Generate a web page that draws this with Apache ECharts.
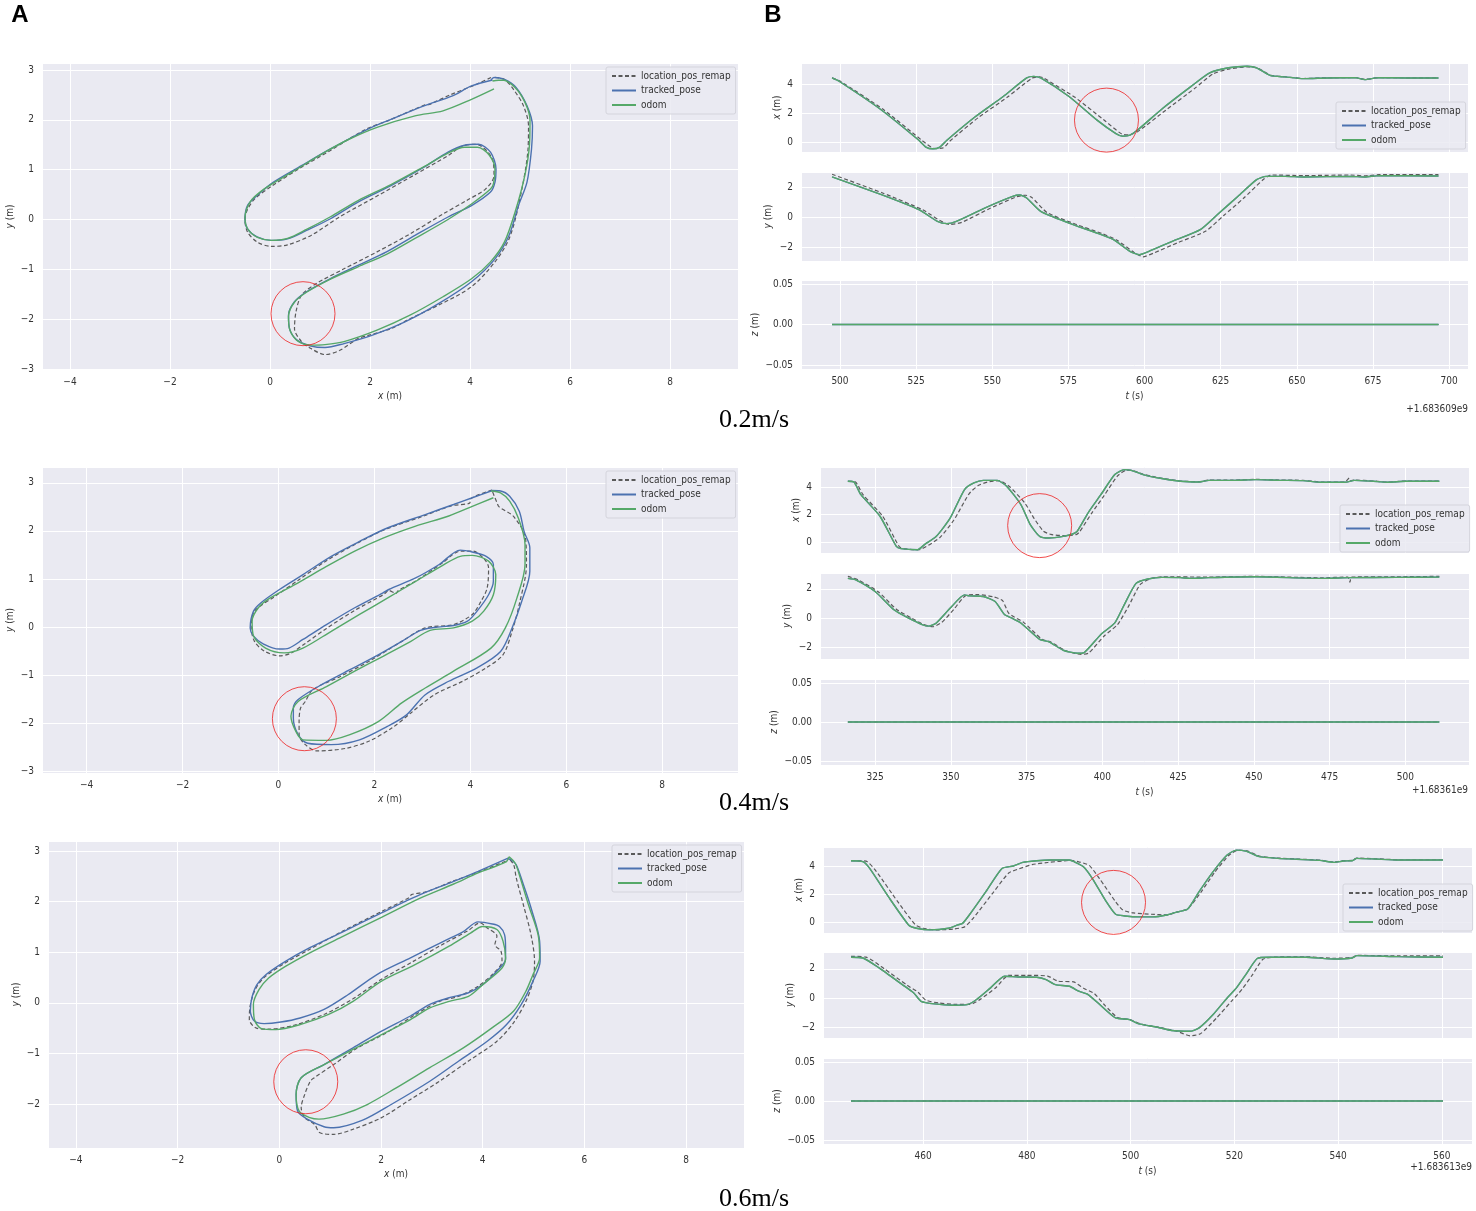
<!DOCTYPE html>
<html>
<head>
<meta charset="utf-8">
<script src="https://cdn.jsdelivr.net/npm/echarts@6/dist/echarts.min.js"></script>
<style>
  html, body { margin: 0; padding: 0; background: #fff; }
  #container { width: 1476px; height: 1211px; }
</style>
</head>
<body>
<div id="container"></div>
<script type="text/javascript">
// ---------- data ----------
var seriesNames = ['location_pos_remap', 'tracked_pose', 'odom'];
var speedLabels = ['0.2m/s', '0.4m/s', '0.6m/s'];
var offsetLabels = ['+1.683609e9', '+1.68361e9', '+1.683613e9'];

// row 1 (0.2 m/s), trajectory in the plane
var r1RemapXY = [[4.42,2.85],[4.1,2.7],[3.6,2.5],[3.3,2.36],[3.19,2.31],[3.1,2.3],[2.4,2.0],[1.9,1.8],[1.2,1.38],[0.6,1.03],[0.05,0.68],[-0.3,0.42],[-0.45,0.2],[-0.5,0.0],[-0.45,-0.25],[-0.26,-0.45],[0.02,-0.54],[0.35,-0.51],[0.82,-0.32],[1.39,0.05],[2.14,0.47],[2.9,0.9],[3.56,1.28],[3.84,1.47],[4.12,1.51],[4.45,1.21],[4.48,0.88],[4.31,0.61],[3.93,0.38],[3.46,0.11],[2.8,-0.29],[2.14,-0.65],[1.48,-0.99],[0.92,-1.29],[0.63,-1.52],[0.52,-1.85],[0.49,-2.19],[0.63,-2.45],[0.82,-2.59],[1.1,-2.71],[1.39,-2.63],[1.76,-2.39],[1.95,-2.33],[2.42,-2.19],[2.8,-1.99],[3.37,-1.72],[4.03,-1.35],[4.5,-0.85],[4.78,-0.39],[4.97,0.28],[5.16,1.41],[5.17,1.88],[5.07,2.28],[4.87,2.61],[4.69,2.81],[4.5,2.85]];
var r1PoseXY = [[4.45,2.8],[4.03,2.68],[3.65,2.48],[3.08,2.28],[2.42,2.01],[1.95,1.81],[1.2,1.41],[0.63,1.08],[0.07,0.75],[-0.26,0.48],[-0.45,0.28],[-0.5,0.01],[-0.45,-0.19],[-0.26,-0.35],[0.02,-0.42],[0.35,-0.39],[0.73,-0.22],[1.2,0.01],[1.76,0.35],[2.42,0.68],[3.08,1.05],[3.56,1.35],[3.89,1.49],[4.17,1.51],[4.41,1.35],[4.52,1.01],[4.5,0.75],[4.41,0.55],[4.03,0.28],[3.56,0.05],[2.9,-0.32],[2.33,-0.65],[1.76,-0.92],[1.2,-1.19],[0.73,-1.45],[0.49,-1.65],[0.37,-1.92],[0.39,-2.19],[0.54,-2.42],[0.82,-2.54],[1.1,-2.57],[1.48,-2.49],[2.05,-2.32],[2.71,-2.05],[3.37,-1.69],[4.03,-1.25],[4.5,-0.79],[4.78,-0.32],[4.97,0.28],[5.14,0.75],[5.23,1.41],[5.25,1.88],[5.14,2.28],[4.92,2.65],[4.69,2.81],[4.48,2.85],[4.42,2.8]];
var r1OdomXY = [[4.48,2.62],[4.03,2.41],[3.46,2.18],[2.9,2.08],[2.14,1.85],[1.58,1.61],[1.1,1.35],[0.44,0.95],[-0.12,0.61],[-0.4,0.35],[-0.5,0.02],[-0.44,-0.2],[-0.25,-0.36],[0.03,-0.42],[0.35,-0.38],[0.73,-0.2],[1.2,0.05],[1.76,0.38],[2.42,0.7],[3.08,1.06],[3.56,1.33],[3.89,1.45],[4.15,1.45],[4.38,1.3],[4.5,1.0],[4.47,0.72],[4.41,0.61],[4.03,0.31],[3.56,0.0],[2.9,-0.38],[2.33,-0.7],[1.76,-0.95],[1.2,-1.2],[0.73,-1.46],[0.48,-1.67],[0.37,-1.95],[0.4,-2.22],[0.56,-2.44],[0.82,-2.52],[1.1,-2.51],[1.48,-2.45],[2.14,-2.22],[2.8,-1.92],[3.46,-1.55],[4.03,-1.19],[4.41,-0.85],[4.69,-0.45],[4.92,0.21],[5.1,0.9],[5.19,1.5],[5.2,2.0],[5.1,2.35],[4.9,2.65],[4.65,2.8],[4.45,2.78]];

// row 1, position against time
var r1RemapTX = [[497.4,4.42],[500,4.2],[514.5,2.2],[527,0.1],[531,-0.45],[534,-0.4],[536,0.05],[545.5,1.7],[555,3.1],[563,4.4],[565.5,4.5],[567,4.4],[577,3.1],[586.5,1.55],[592.5,0.55],[595,0.5],[598,0.75],[607,2.2],[616.5,3.7],[622.5,4.7],[628,5.05],[634,5.18],[637,5.12],[641.5,4.6],[646.1,4.5],[652.2,4.38],[659.9,4.43],[669.2,4.45],[672.3,4.32],[676.9,4.45],[686.1,4.43],[696.5,4.43]];
var r1PoseTX = [[497.4,4.42],[499.7,4.19],[513.6,2.21],[525.9,0.12],[528.2,-0.35],[530.5,-0.47],[532.8,-0.35],[535.1,0.12],[544.4,1.74],[553.6,3.14],[561.3,4.42],[563.6,4.53],[565.9,4.42],[575.2,3.14],[584.4,1.51],[590.6,0.58],[592.9,0.4],[595.2,0.47],[598.3,0.93],[606.0,2.33],[615.3,3.84],[621.4,4.77],[627.6,5.12],[633.7,5.23],[636.8,5.12],[641.4,4.58],[646.1,4.49],[652.2,4.37],[659.9,4.42],[669.2,4.44],[672.3,4.3],[676.9,4.44],[686.1,4.42],[696.5,4.42]];
var r1RemapTY = [[497.4,2.85],[514,1.6],[527,0.5],[536,-0.5],[540,-0.35],[549,0.55],[558,1.35],[561,1.45],[563,1.3],[568,0.3],[577,-0.45],[586,-1.1],[591,-1.55],[596.5,-2.35],[599.5,-2.65],[603,-2.4],[611,-1.7],[620,-0.95],[626,0.1],[632.5,1.25],[639,2.5],[641.5,2.8],[652.2,2.76],[667.6,2.8],[672.3,2.74],[676.9,2.82],[696.5,2.82]];
var r1PoseTY = [[497.4,2.68],[513.6,1.49],[525.9,0.49],[532,-0.29],[535.1,-0.44],[538.2,-0.29],[547.5,0.6],[556.7,1.38],[559,1.47],[561.3,1.27],[565.9,0.38],[575.2,-0.4],[584.4,-1.07],[589.8,-1.51],[595.2,-2.29],[598.3,-2.51],[601.4,-2.29],[609.1,-1.62],[618.3,-0.84],[624.5,0.27],[630.7,1.38],[636.8,2.49],[639.9,2.71],[646.1,2.71],[652.2,2.67],[667.6,2.71],[672.3,2.67],[676.9,2.76],[696.5,2.73]];
var r1Z = [[497.4,0],[696.5,0]];

// row 2 (0.4 m/s)
var r2RemapXY = [[4.45,2.85],[4.0,2.66],[3.99,2.58],[3.6,2.52],[3.0,2.3],[2.2,2.02],[1.6,1.72],[1.0,1.38],[0.45,1.0],[-0.1,0.62],[-0.4,0.42],[-0.52,0.3],[-0.57,0.0],[-0.5,-0.3],[-0.3,-0.5],[0.02,-0.6],[0.25,-0.55],[0.55,-0.35],[1.0,-0.03],[1.6,0.35],[2.2,0.68],[2.3,0.76],[2.45,0.7],[2.5,0.76],[2.9,0.98],[3.4,1.32],[3.8,1.58],[4.05,1.58],[4.3,1.4],[4.38,1.23],[4.35,0.81],[4.22,0.53],[4.04,0.26],[3.65,0.05],[3.06,-0.02],[2.57,-0.3],[1.88,-0.72],[1.29,-1.03],[0.71,-1.31],[0.56,-1.55],[0.46,-1.69],[0.43,-1.97],[0.43,-2.24],[0.56,-2.45],[0.8,-2.58],[1.39,-2.53],[1.88,-2.38],[2.37,-2.1],[2.76,-1.79],[3.25,-1.41],[3.84,-1.13],[4.33,-0.85],[4.68,-0.58],[4.87,-0.09],[5.02,0.47],[5.17,1.3],[5.15,1.85],[4.9,2.3],[4.6,2.5],[4.55,2.6],[4.45,2.85]];
var r2PoseXY = [[4.43,2.83],[4.04,2.69],[3.65,2.55],[3.06,2.34],[2.27,2.06],[1.69,1.78],[1.1,1.47],[0.51,1.09],[0.02,0.78],[-0.37,0.5],[-0.52,0.33],[-0.59,-0.02],[-0.52,-0.19],[-0.32,-0.35],[0.02,-0.46],[0.22,-0.44],[0.51,-0.26],[1.0,0.05],[1.59,0.4],[2.18,0.71],[2.3,0.78],[2.86,1.02],[3.35,1.3],[3.79,1.6],[4.04,1.56],[4.33,1.47],[4.48,1.3],[4.48,0.95],[4.38,0.67],[4.14,0.33],[3.94,0.12],[3.65,0.03],[3.25,-0.01],[2.96,-0.07],[2.57,-0.3],[2.08,-0.58],[1.49,-0.89],[0.9,-1.2],[0.41,-1.51],[0.31,-1.69],[0.31,-1.9],[0.41,-2.24],[0.61,-2.42],[1.1,-2.45],[1.69,-2.35],[2.27,-2.07],[2.67,-1.83],[3.06,-1.41],[3.55,-1.13],[4.14,-0.85],[4.63,-0.51],[4.87,-0.02],[5.07,0.53],[5.24,1.16],[5.24,1.65],[5.12,1.99],[5.02,2.41],[4.82,2.72],[4.63,2.83],[4.43,2.84]];
var r2OdomXY = [[4.48,2.69],[4.04,2.51],[3.55,2.31],[2.86,2.1],[2.18,1.85],[1.59,1.58],[1.0,1.26],[0.41,0.92],[-0.18,0.6],[-0.42,0.4],[-0.55,0.12],[-0.52,-0.19],[-0.27,-0.44],[0.12,-0.54],[0.51,-0.44],[1.1,-0.09],[1.69,0.26],[2.27,0.6],[2.86,0.95],[3.45,1.3],[3.79,1.47],[4.04,1.49],[4.38,1.37],[4.53,1.09],[4.48,0.67],[4.28,0.33],[4.04,0.12],[3.65,-0.02],[3.16,-0.07],[2.76,-0.3],[2.18,-0.61],[1.59,-0.92],[1.0,-1.24],[0.41,-1.55],[0.26,-1.86],[0.36,-2.17],[0.51,-2.35],[1.0,-2.36],[1.49,-2.24],[2.08,-1.97],[2.57,-1.58],[3.06,-1.27],[3.65,-0.92],[4.43,-0.44],[4.73,-0.02],[4.97,0.6],[5.14,1.3],[5.14,1.72],[5.0,2.27],[4.82,2.62],[4.63,2.79],[4.43,2.83]];

var r2RemapTX = [[316,4.41],[318.5,4.36],[321,3.44],[327.5,1.87],[333,-0.35],[335,-0.5],[339.5,-0.56],[342.5,-0.25],[346.5,0.35],[351,1.6],[356,3.5],[359,4.1],[362,4.35],[366,4.45],[369.5,4.0],[374.5,2.8],[377.5,1.7],[380.5,0.8],[383,0.55],[388,0.45],[391.5,0.55],[392.5,0.75],[396.5,2.1],[400.5,3.35],[405,4.8],[408,5.22],[410,5.2],[413.5,4.92],[419.6,4.63],[425.8,4.43],[432,4.38],[435.1,4.5],[442.9,4.5],[450.7,4.55],[458.4,4.5],[466.2,4.48],[472.4,4.36],[480.1,4.36],[481.5,4.65],[482,4.45],[483.2,4.5],[489.4,4.43],[494.1,4.36],[500.3,4.43],[511.2,4.43]];
var r2PoseTX = [[316,4.41],[318,4.36],[320.3,3.44],[326.6,1.87],[332,-0.32],[333.5,-0.48],[339,-0.56],[341.3,-0.19],[345.2,0.41],[349.8,1.75],[354.5,3.81],[357.6,4.29],[360.7,4.48],[365.3,4.48],[368.4,4.05],[373.1,2.72],[376.2,1.26],[379.3,0.41],[382.4,0.29],[387.1,0.41],[390.2,0.58],[391.7,0.78],[395.6,2.23],[399.5,3.44],[404.1,4.9],[407.2,5.26],[409.5,5.21],[413.4,4.9],[419.6,4.61],[425.8,4.41],[432,4.36],[435.1,4.48],[442.9,4.48],[450.7,4.53],[458.4,4.48],[466.2,4.46],[472.4,4.34],[480.1,4.34],[483.2,4.48],[489.4,4.41],[494.1,4.34],[500.3,4.41],[511.2,4.41]];
var r2RemapTY = [[316,2.85],[319.5,2.6],[326,1.8],[332,0.6],[337,0],[341,-0.45],[344,-0.6],[347,-0.3],[351,0.6],[355,1.55],[359,1.6],[364,1.45],[367,1.2],[369,0.35],[371,0.05],[374,-0.3],[380,-1.45],[383,-1.65],[388,-2.25],[393,-2.5],[395.5,-2.4],[400.5,-1.25],[405,-0.45],[408.5,0.75],[412.5,2.3],[416,2.7],[420,2.82],[435.1,2.8],[450.7,2.85],[472.4,2.75],[481,2.8],[481.7,2.45],[482.2,2.8],[497.2,2.82],[511.2,2.85]];
var r2PoseTY = [[316,2.71],[318.8,2.6],[325,1.81],[331.2,0.56],[335.9,0],[340.5,-0.45],[342.8,-0.56],[345.2,-0.34],[349.8,0.68],[354.5,1.58],[356,1.51],[360.7,1.47],[364.6,1.13],[367.7,0.23],[370,0],[373.1,-0.34],[379.3,-1.47],[382.4,-1.63],[387.1,-2.21],[391.7,-2.42],[394,-2.37],[399.5,-1.13],[404.1,-0.34],[407.2,0.9],[411.1,2.37],[415,2.67],[419.6,2.78],[425.8,2.76],[428.9,2.71],[435.1,2.76],[450.7,2.82],[472.4,2.71],[481.7,2.76],[497.2,2.78],[511.2,2.8]];
var r2Z = [[316,0],[511.2,0]];

// row 3 (0.6 m/s)
var r3RemapXY = [[4.45,2.8],[3.9,2.58],[3.4,2.4],[2.9,2.2],[2.6,2.14],[2.55,2.08],[2.0,1.8],[1.25,1.42],[0.6,1.06],[0.1,0.78],[-0.3,0.5],[-0.48,0.25],[-0.58,-0.1],[-0.59,-0.33],[-0.45,-0.5],[-0.2,-0.52],[0.3,-0.44],[0.9,-0.22],[1.45,0.08],[2.0,0.46],[2.6,0.8],[3.2,1.15],[3.7,1.42],[3.95,1.58],[4.09,1.48],[4.28,1.32],[4.24,1.15],[4.36,1.02],[4.38,0.82],[4.19,0.56],[3.91,0.33],[3.53,0.13],[3.15,0.03],[2.68,-0.23],[2.11,-0.59],[1.54,-0.89],[1.07,-1.22],[0.69,-1.48],[0.61,-1.55],[0.5,-1.81],[0.43,-2.07],[0.5,-2.27],[0.69,-2.4],[0.8,-2.57],[1.07,-2.6],[1.45,-2.5],[2.01,-2.27],[2.58,-1.91],[3.15,-1.55],[3.72,-1.15],[4.28,-0.76],[4.61,-0.39],[4.85,0.03],[4.99,0.43],[5.02,0.82],[4.95,1.35],[4.8,1.94],[4.66,2.47],[4.61,2.73],[4.5,2.87]];
var r3PoseXY = [[4.5,2.86],[3.91,2.6],[3.43,2.4],[2.77,2.14],[2.01,1.78],[1.26,1.41],[0.6,1.09],[0.12,0.82],[-0.26,0.56],[-0.44,0.36],[-0.54,0.1],[-0.57,-0.16],[-0.49,-0.36],[-0.3,-0.41],[0.03,-0.38],[0.41,-0.3],[0.88,-0.13],[1.35,0.16],[1.92,0.56],[2.58,0.89],[3.24,1.22],[3.62,1.41],[3.91,1.6],[4.19,1.56],[4.33,1.51],[4.43,1.35],[4.45,1.09],[4.45,0.86],[4.28,0.63],[4.0,0.36],[3.72,0.2],[3.34,0.1],[2.96,-0.03],[2.58,-0.26],[2.01,-0.56],[1.45,-0.89],[0.88,-1.22],[0.43,-1.48],[0.33,-1.81],[0.36,-2.14],[0.55,-2.3],[0.88,-2.45],[1.07,-2.47],[1.64,-2.32],[2.2,-2.01],[2.96,-1.55],[3.53,-1.15],[4.09,-0.76],[4.47,-0.43],[4.76,-0.03],[4.99,0.43],[5.13,0.82],[5.12,1.22],[4.95,1.88],[4.8,2.34],[4.66,2.73],[4.56,2.83],[4.5,2.85]];
var r3OdomXY = [[4.52,2.89],[4.45,2.78],[3.91,2.57],[3.43,2.35],[2.77,2.07],[2.01,1.69],[1.26,1.32],[0.6,0.99],[0.12,0.72],[-0.21,0.49],[-0.4,0.26],[-0.51,-0.03],[-0.49,-0.33],[-0.35,-0.51],[-0.07,-0.53],[0.41,-0.43],[0.97,-0.23],[1.45,0.03],[2.01,0.43],[2.68,0.76],[3.34,1.12],[3.76,1.38],[4.0,1.51],[4.28,1.45],[4.4,1.22],[4.45,0.89],[4.38,0.69],[4.0,0.36],[3.72,0.13],[3.34,0.03],[2.96,-0.1],[2.58,-0.33],[2.01,-0.63],[1.45,-0.92],[0.88,-1.22],[0.43,-1.48],[0.33,-1.81],[0.39,-2.14],[0.6,-2.27],[0.78,-2.3],[1.26,-2.2],[1.73,-2.01],[2.3,-1.68],[2.96,-1.28],[3.62,-0.89],[4.19,-0.49],[4.61,-0.16],[4.85,0.23],[4.99,0.56],[5.12,0.89],[5.09,1.35],[4.9,1.94],[4.74,2.47],[4.64,2.76],[4.52,2.89]];

var r3RemapTX = [[446.1,4.38],[449,4.35],[451,3.6],[455,1.5],[458.5,-0.2],[460,-0.45],[462.5,-0.57],[466,-0.5],[468,-0.35],[469.5,0.2],[473.5,2.1],[476.5,3.5],[478.5,3.8],[481,4.1],[484,4.25],[488.5,4.4],[490,4.3],[492,4.05],[494,3.1],[497,1.5],[498.5,0.85],[500.5,0.65],[504,0.55],[507,0.5],[508.7,0.69],[511,0.93],[513.5,2.1],[516.2,3.55],[518.9,4.75],[520.6,5.12],[522.4,5.08],[525,4.69],[528.4,4.57],[532,4.5],[536.5,4.42],[539.2,4.28],[541,4.38],[542.7,4.4],[543.6,4.57],[547.2,4.52],[551.7,4.45],[560.2,4.45]];
var r3PoseTX = [[446.1,4.38],[448.4,4.31],[449.7,3.83],[453.3,1.81],[457.3,-0.26],[458.7,-0.45],[461.3,-0.57],[464.9,-0.45],[466.7,-0.21],[467.6,-0.1],[468.9,0.5],[472.1,2.17],[475.2,3.83],[477.4,4.0],[479.2,4.26],[481.9,4.38],[484.6,4.43],[488.2,4.43],[489.1,4.31],[490.9,3.95],[492.6,3.12],[495.3,1.45],[497.1,0.55],[498.9,0.43],[501.6,0.36],[504.3,0.36],[507,0.5],[508.7,0.69],[511,0.93],[513.2,2.17],[515.9,3.6],[518.6,4.79],[520.4,5.14],[522.2,5.07],[524.8,4.67],[528.4,4.55],[532,4.48],[536.5,4.4],[539.2,4.26],[541,4.36],[542.7,4.38],[543.6,4.55],[547.2,4.5],[551.7,4.43],[560.2,4.43]];
var r3RemapTY = [[446.1,2.85],[449,2.8],[452.5,2.0],[457,0.85],[459,0.4],[460.5,-0.15],[463,-0.35],[466.5,-0.45],[469,-0.45],[471,-0.1],[474,0.7],[476.5,1.55],[480,1.55],[484,1.5],[486,1.15],[489,1.1],[491,0.65],[493,0.3],[495,-0.5],[497.5,-1.35],[500,-1.5],[502,-1.8],[506,-2.05],[509,-2.3],[511.5,-2.6],[513.5,-2.45],[516.5,-1.4],[519.5,-0.2],[521.5,0.6],[523.5,1.6],[525.5,2.65],[528,2.8],[533.8,2.82],[539.2,2.72],[542.7,2.78],[543.6,2.92],[551.7,2.88],[560.2,2.88]];
var r3PoseTY = [[446.1,2.79],[448.4,2.74],[451.5,2.06],[456,0.91],[458.2,0.34],[459.6,-0.23],[462.2,-0.41],[465.8,-0.5],[468.5,-0.46],[470.3,-0.11],[473,0.69],[475.7,1.49],[478.3,1.44],[481.9,1.42],[483.7,1.26],[485.5,0.91],[488.2,0.8],[490,0.46],[491.8,0.23],[494.4,-0.57],[497.1,-1.37],[499.8,-1.49],[501.6,-1.78],[505.2,-2.01],[507.9,-2.24],[511.4,-2.29],[513.2,-2.06],[515.9,-1.14],[518.6,0],[520.4,0.69],[522.2,1.6],[524.4,2.7],[526.6,2.79],[533.8,2.79],[539.2,2.67],[542.7,2.74],[543.6,2.9],[551.7,2.83],[560.2,2.79]];
var r3Z = [[446.1,0],[560.2,0]];

// red annotation circles (centre in data units)
var circlesXY = [[0.66,-1.89],[0.54,-1.91],[0.52,-1.56]];
var circlesTX = [[587.5,1.51],[379.3,1.19],[496.7,1.4]];

// ---------- layout ----------
var rows = [
  { xy: [r1RemapXY, r1PoseXY, r1OdomXY], tx: [r1RemapTX, r1PoseTX], ty: [r1RemapTY, r1PoseTY], tz: r1Z,
    L: { left: 42, top: 63, width: 696, height: 307, x: [-4.56, 9.36], y: [-3.02, 3.14], yGap: 27 },
    R: { left: 801, width: 667, tops: [63, 172, 280], height: 89, t: [487.2, 706.2], tStep: 25,
         x: [-0.69, 5.45], y: [-2.93, 3.0] },
    legL: [606, 67], legR: [1336, 102], speedY: 420, offY: 409, offX: 1468 },
  { xy: [r2RemapXY, r2PoseXY, r2OdomXY], tx: [r2RemapTX, r2PoseTX], ty: [r2RemapTY, r2PoseTY], tz: r2Z,
    L: { left: 42, top: 467, width: 696, height: 306, x: [-4.93, 9.58], y: [-3.04, 3.33], yGap: 27 },
    R: { left: 820, width: 649, tops: [467, 573, 679], height: 86, t: [306.8, 521], tStep: 25,
         x: [-0.8, 5.45], y: [-2.81, 3.08] },
    legL: [606, 471], legR: [1340, 505], speedY: 803, offY: 790, offX: 1468 },
  { xy: [r3RemapXY, r3PoseXY, r3OdomXY], tx: [r3RemapTX, r3PoseTX], ty: [r3RemapTY, r3PoseTY], tz: r3Z,
    L: { left: 48, top: 841, width: 696, height: 307, x: [-4.55, 9.14], y: [-2.87, 3.2], yGap: 27 },
    R: { left: 823, width: 649, tops: [847, 952, 1058], height: 86, t: [440.7, 565.8], tStep: 20,
         x: [-0.79, 5.36], y: [-2.75, 3.15] },
    legL: [612, 845], legR: [1343, 884], speedY: 1199, offY: 1167, offX: 1472 }
];

var FONT = "'DejaVu Sans Condensed', 'DejaVu Sans', sans-serif";
var BG = '#EAEAF2';
var colors = ['#5a5a5a', '#4C72B0', '#55A868'];
var MINUS = '\u2212';

function fmtInt(v) { return (v < 0 ? MINUS : '') + Math.abs(Math.round(v)); }
function fmtZ(v) { return (v < -1e-9 ? MINUS : '') + Math.abs(v).toFixed(2); }

function axisName(letter, unit) { return '{i|' + letter + '} (' + unit + ')'; }
var nameStyle = {
  color: '#333', fontSize: 10, fontFamily: FONT,
  rich: { i: { fontStyle: 'italic', fontSize: 10, fontFamily: FONT, color: '#333' } }
};

function makeAxis(grid, range, step, opts) {
  opts = opts || {};
  return {
    type: 'value', gridIndex: grid, min: range[0], max: range[1],
    minInterval: step, maxInterval: step,
    name: opts.name || '', nameLocation: 'middle', nameGap: opts.gap || 20, nameTextStyle: nameStyle,
    axisLine: { show: false }, axisTick: { show: false },
    axisLabel: { show: opts.label !== false, color: '#333', fontSize: 10, fontFamily: FONT, margin: opts.margin || 8,
                 showMinLabel: false, showMaxLabel: false, formatter: opts.fmt || fmtInt },
    splitLine: { show: true, lineStyle: { color: '#ffffff', width: 1 } }
  };
}

function lineSeries(k, grid, data, smooth) {
  return {
    type: 'line', name: seriesNames[k], xAxisIndex: grid, yAxisIndex: grid, data: data,
    showSymbol: false, symbol: 'none', silent: true, z: 2 + k, smooth: smooth,
    lineStyle: { color: colors[k], width: k === 0 ? 1.2 : 1.4, type: k === 0 ? [4, 2.5] : 'solid' },
    itemStyle: { color: colors[k] }
  };
}

function circleSeries(grid, centre) {
  return {
    type: 'scatter', xAxisIndex: grid, yAxisIndex: grid, data: [centre], symbol: 'circle', symbolSize: 64,
    silent: true, z: 10,
    itemStyle: { color: 'rgba(0,0,0,0)', borderColor: '#ee2020', borderWidth: 1 }
  };
}

function legendAt(pos) {
  return {
    data: seriesNames, orient: 'vertical', left: pos[0], top: pos[1], selectedMode: false,
    itemWidth: 24, itemHeight: 8, itemGap: 2.5, padding: [3, 5],
    itemStyle: { opacity: 0, borderWidth: 0 },
    backgroundColor: 'rgba(234,234,242,0.85)', borderColor: '#d4d4dc', borderWidth: 1, borderRadius: 2,
    textStyle: { color: '#333', fontSize: 10, fontFamily: FONT, lineHeight: 12 }
  };
}

var grids = [], xAxes = [], yAxes = [], series = [], legends = [], graphics = [];

rows.forEach(function (r, i) {
  var g0 = grids.length;
  // trajectory panel
  grids.push({ left: r.L.left, top: r.L.top, width: r.L.width, height: r.L.height,
               show: true, backgroundColor: BG, borderWidth: 0 });
  xAxes.push(makeAxis(g0, r.L.x, 2, { name: axisName('x', 'm'), gap: 21, margin: 7 }));
  yAxes.push(makeAxis(g0, r.L.y, 1, { name: axisName('y', 'm'), gap: r.L.yGap }));
  for (var k = 0; k < 3; k++) series.push(lineSeries(k, g0, r.xy[k], 0.3));
  series.push(circleSeries(g0, circlesXY[i]));
  legends.push(legendAt(r.legL));

  // time panels
  var subs = [
    { data: r.tx, range: r.R.x, step: 2, letter: 'x', gap: 19, fmt: fmtInt },
    { data: r.ty, range: r.R.y, step: 2, letter: 'y', gap: 28, fmt: fmtInt },
    { data: [r.tz, r.tz], range: [-0.055, 0.055], step: 0.05, letter: 'z', gap: 41, fmt: fmtZ }
  ];
  subs.forEach(function (s, j) {
    var g = grids.length;
    var last = j === 2;
    grids.push({ left: r.R.left, top: r.R.tops[j], width: r.R.width, height: r.R.height,
                 show: true, backgroundColor: BG, borderWidth: 0 });
    xAxes.push(makeAxis(g, r.R.t, r.R.tStep, { label: last, name: last ? axisName('t', 's') : '', gap: 22, margin: 7 }));
    yAxes.push(makeAxis(g, s.range, s.step, { name: axisName(s.letter, 'm'), gap: s.gap, fmt: s.fmt }));
    // pose and odom overlap on these panels: both drawn from the same readings
    series.push(lineSeries(0, g, s.data[0], 0.2));
    series.push(lineSeries(1, g, s.data[1], 0.2));
    series.push(lineSeries(2, g, s.data[1], 0.2));
    if (j === 0) {
      series.push(circleSeries(g, circlesTX[i]));
      legends.push(legendAt(r.legR));
    }
  });

  graphics.push({ type: 'text', x: 754, y: r.speedY,
    style: { text: speedLabels[i], fill: '#000', font: "26px 'Liberation Serif', 'Times New Roman', serif",
             align: 'center', verticalAlign: 'middle' } });
  graphics.push({ type: 'text', x: r.offX, y: r.offY,
    style: { text: offsetLabels[i], fill: '#333', font: "10px " + FONT, align: 'right', verticalAlign: 'middle' } });
});

graphics.push({ type: 'text', x: 20, y: 15,
  style: { text: 'A', fill: '#000', font: "bold 24px 'Liberation Sans', Arial, sans-serif", align: 'center', verticalAlign: 'middle' } });
graphics.push({ type: 'text', x: 773, y: 15,
  style: { text: 'B', fill: '#000', font: "bold 24px 'Liberation Sans', Arial, sans-serif", align: 'center', verticalAlign: 'middle' } });

var myChart = echarts.init(document.getElementById('container'), null, { renderer: 'canvas' });
var option = {
  backgroundColor: '#ffffff',
  animation: false,
  grid: grids,
  xAxis: xAxes,
  yAxis: yAxes,
  legend: legends,
  series: series,
  graphic: graphics
};
myChart.setOption(option);
</script>
</body>
</html>
